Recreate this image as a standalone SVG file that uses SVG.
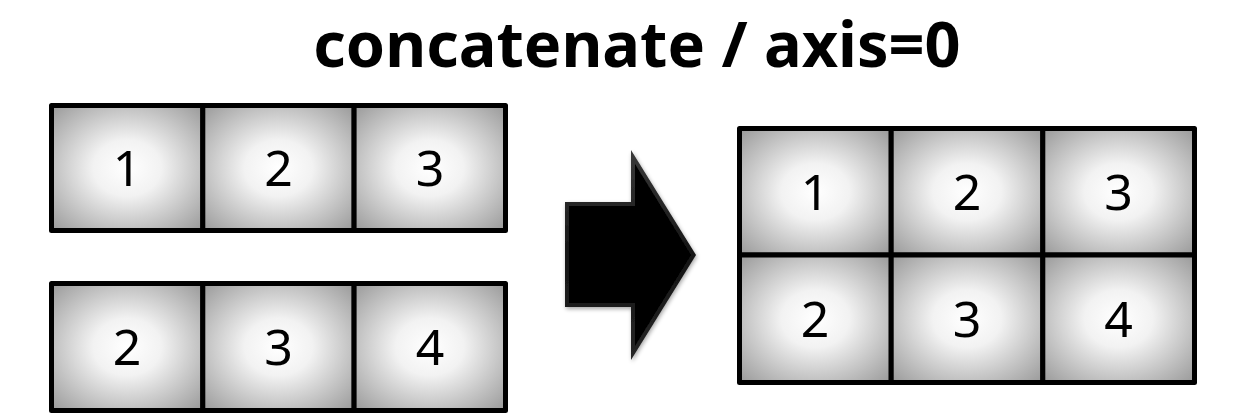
<svg xmlns="http://www.w3.org/2000/svg" width="1234" height="420" viewBox="0 0 1234 420">
<style>
.title{font-family:"Noto Sans","Open Sans","Liberation Sans",sans-serif;font-weight:bold;font-size:63px;fill:#000;text-anchor:middle}
.num{font-family:"Noto Sans","Open Sans","Liberation Sans",sans-serif;font-size:50px;fill:#000;text-anchor:middle}
.cell{fill:url(#cg);stroke:#000;stroke-width:5;stroke-linejoin:round}
</style>
<defs>
<radialGradient id="cg" cx="50%" cy="50%" r="75%">
<stop offset="0" stop-color="#ffffff"/>
<stop offset="0.3" stop-color="#f2f2f2"/>
<stop offset="1" stop-color="#909090"/>
</radialGradient>
<linearGradient id="ag" x1="0" y1="0" x2="0" y2="1">
<stop offset="0" stop-color="#3a3a3a"/>
<stop offset="0.5" stop-color="#151515"/>
<stop offset="1" stop-color="#262626"/>
</linearGradient>
<filter id="sh" x="-20%" y="-20%" width="140%" height="140%">
<feGaussianBlur in="SourceAlpha" stdDeviation="2"/>
<feOffset dx="1" dy="2" result="b"/>
<feComponentTransfer><feFuncA type="linear" slope="0.35"/></feComponentTransfer>
<feMerge><feMergeNode/><feMergeNode in="SourceGraphic"/></feMerge>
</filter>
</defs>
<rect width="1234" height="420" fill="#fff"/>
<text class="title" x="637" y="67">concatenate / axis=0</text>

<g id="array-a">
<rect class="cell" x="51.5" y="105.5" width="151.3" height="125"/>
<rect class="cell" x="202.8" y="105.5" width="151.3" height="125"/>
<rect class="cell" x="354.1" y="105.5" width="151.4" height="125"/>
<text class="num" x="127" y="186">1</text>
<text class="num" x="278.5" y="186">2</text>
<text class="num" x="430" y="186">3</text>
</g>

<g id="array-b">
<rect class="cell" x="51.5" y="283.5" width="151.3" height="127"/>
<rect class="cell" x="202.8" y="283.5" width="151.3" height="127"/>
<rect class="cell" x="354.1" y="283.5" width="151.4" height="127"/>
<text class="num" x="127" y="365">2</text>
<text class="num" x="278.5" y="365">3</text>
<text class="num" x="430" y="365">4</text>
</g>

<g id="arrow" filter="url(#sh)">
<polygon points="565,202 631,202 631,150 696,255 631,360 631,307 565,307" fill="url(#ag)"/>
<polygon points="569,206 635,206 635,164 691,255 635,346 635,303 569,303" fill="#000"/>
</g>

<g id="result">
<rect class="cell" x="739.5" y="128.5" width="151.7" height="126.5"/>
<rect class="cell" x="891.2" y="128.5" width="151.6" height="126.5"/>
<rect class="cell" x="1042.8" y="128.5" width="151.7" height="126.5"/>
<rect class="cell" x="739.5" y="255" width="151.7" height="127.5"/>
<rect class="cell" x="891.2" y="255" width="151.6" height="127.5"/>
<rect class="cell" x="1042.8" y="255" width="151.7" height="127.5"/>
<text class="num" x="815" y="210">1</text>
<text class="num" x="967" y="210">2</text>
<text class="num" x="1118.5" y="210">3</text>
<text class="num" x="815" y="337">2</text>
<text class="num" x="967" y="337">3</text>
<text class="num" x="1118.5" y="337">4</text>
</g>
</svg>
